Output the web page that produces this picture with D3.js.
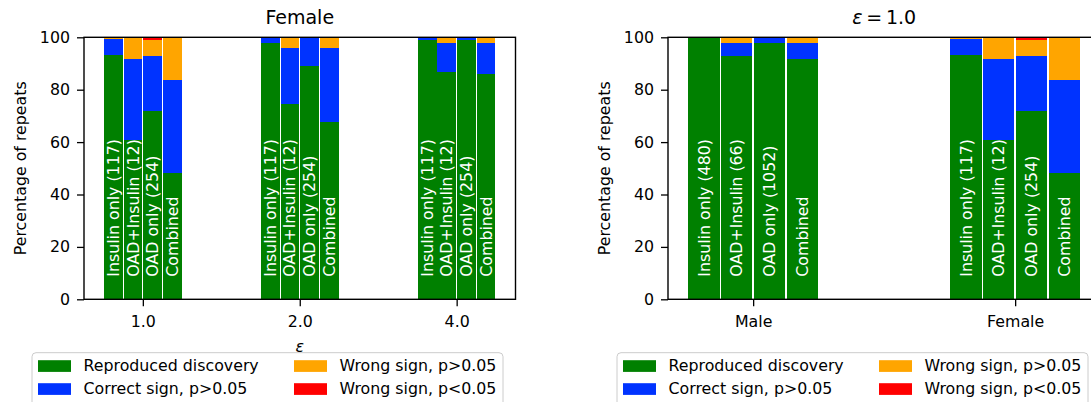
<!DOCTYPE html>
<html>
<head>
<meta charset="utf-8">
<script src="https://cdn.jsdelivr.net/npm/d3@7/dist/d3.min.js"></script>
<style>
  body { margin: 0; background: #fff; }
  svg { display: block; font-family: "DejaVu Sans", sans-serif; }
</style>
</head>
<body>
<svg id="chart" width="1091" height="402"></svg>
<script>
// ---------------- DATA ----------------
const seriesNames = ["Reproduced discovery", "Correct sign, p>0.05", "Wrong sign, p>0.05", "Wrong sign, p<0.05"];
const seriesColors = ["#008000", "#0033ff", "#ffa500", "#ff0000"];

// Left panel: Female, by epsilon
const leftGroups = ["1.0", "2.0", "4.0"];
const leftBarLabels = [
  ["Insulin only (117)", "OAD+Insulin (12)", "OAD only (254)", "Combined"],
  ["Insulin only (117)", "OAD+Insulin (12)", "OAD only (254)", "Combined"],
  ["Insulin only (117)", "OAD+Insulin (12)", "OAD only (254)", "Combined"]
];
const leftReproduced = [[93.2, 60.8, 71.9, 48.1], [97.7, 74.7, 89.2, 67.8], [99.1, 86.9, 99.1, 86.1]];
const leftCorrectNS  = [[6.0, 30.9, 21.1, 35.6], [2.3, 21.2, 10.8, 28.1], [0.9, 10.9, 0.9, 11.7]];
const leftWrongNS    = [[0.8, 8.3, 6.0, 16.3], [0.0, 4.1, 0.0, 4.1], [0.0, 2.2, 0.0, 2.2]];
const leftWrongSig   = [[0.0, 0.0, 1.0, 0.0], [0.0, 0.0, 0.0, 0.0], [0.0, 0.0, 0.0, 0.0]];

// Right panel: epsilon = 1.0, by sex
const rightGroups = ["Male", "Female"];
const rightBarLabels = [
  ["Insulin only (480)", "OAD+Insulin (66)", "OAD only (1052)", "Combined"],
  ["Insulin only (117)", "OAD+Insulin (12)", "OAD only (254)", "Combined"]
];
const rightReproduced = [[100.0, 93.0, 97.8, 91.7], [93.2, 60.8, 71.9, 48.1]];
const rightCorrectNS  = [[0.0, 4.8, 2.2, 6.1], [6.0, 30.9, 21.1, 35.6]];
const rightWrongNS    = [[0.0, 2.2, 0.0, 2.2], [0.8, 8.3, 6.0, 16.3]];
const rightWrongSig   = [[0.0, 0.0, 0.0, 0.0], [0.0, 0.0, 1.0, 0.0]];

const yTicks = [0, 20, 40, 60, 80, 100];

// ---------------- LAYOUT ----------------
const svg = d3.select("#chart");
const FS = 15.8;
const yTop = 37.3, yBot = 299.3;
const barStep = 0.125, barWidth = 0.12;

function drawPanel(opts) {
  const { x0, x1, groups, labels, series, title, xlabel, legendX } = opts;
  const nG = groups.length;
  const margin = (nG - 0.5) * 0.05; // matplotlib default 5% margin on data range
  const x = d3.scaleLinear().domain([-0.25 - margin, nG - 0.75 + margin]).range([x0, x1]);
  const y = d3.scaleLinear().domain([0, 100]).range([yBot, yTop]);
  const g = svg.append("g");

  // bars
  const barsG = g.append("g").attr("shape-rendering", "crispEdges");
  groups.forEach((grp, i) => {
    for (let j = 0; j < 4; j++) {
      const cx = i + (j - 1.5) * barStep;
      let base = 0;
      series.forEach((s, k) => {
        const v = s[i][j];
        if (v > 0) {
          barsG.append("rect")
            .attr("x", x(cx - barWidth / 2))
            .attr("width", x(cx + barWidth / 2) - x(cx - barWidth / 2))
            .attr("y", y(base + v))
            .attr("height", y(base) - y(base + v))
            .attr("fill", seriesColors[k]);
        }
        base += v;
      });
      // label
      const ty = y(0) - 22.6;
      const tx = x(cx);
      g.append("text")
        .attr("transform", `translate(${tx},${ty}) rotate(-90)`)
        .attr("dominant-baseline", "central")
        .attr("text-anchor", "start")
        .attr("fill", "#fff")
        .attr("font-size", FS)
        .text(labels[i][j]);
    }
  });

  // axes
  const yAxis = d3.axisLeft(y).tickValues(yTicks).tickSize(7).tickPadding(7).tickFormat(d3.format("d"));
  const ya = g.append("g").attr("transform", `translate(${x0},0)`).call(yAxis);
  const xAxis = d3.axisBottom(x).tickValues(d3.range(nG)).tickFormat((d) => groups[d]).tickSize(7).tickPadding(9);
  const xa = g.append("g").attr("transform", `translate(0,${yBot})`).call(xAxis);
  [ya, xa].forEach(a => {
    a.select(".domain").remove();
    a.selectAll(".tick line").attr("stroke", "#000").attr("stroke-width", 1.3);
    a.selectAll(".tick text").attr("fill", "#000").attr("font-size", FS).attr("font-family", "DejaVu Sans");
  });
  // frame
  g.append("rect")
    .attr("x", x0).attr("y", yTop)
    .attr("width", x1 - x0).attr("height", yBot - yTop)
    .attr("fill", "none").attr("stroke", "#000").attr("stroke-width", 1.4);

  // y label
  g.append("text")
    .attr("transform", `translate(${x0 - 64},${(yTop + yBot) / 2}) rotate(-90)`)
    .attr("text-anchor", "middle").attr("dominant-baseline", "central")
    .attr("font-size", FS).text("Percentage of repeats");

  // title
  const t = g.append("text")
    .attr("x", (x0 + x1) / 2).attr("y", 24)
    .attr("text-anchor", "middle").attr("font-size", 19);
  if (title.math) {
    t.append("tspan").attr("font-style", "italic").text("ε");
    t.append("tspan").text("\u2009=\u20091.0");
  } else {
    t.text(title.text);
  }

  // x label
  if (xlabel) {
    g.append("text")
      .attr("x", (x0 + x1) / 2).attr("y", 352)
      .attr("text-anchor", "middle").attr("font-size", FS)
      .attr("font-style", "italic").text(xlabel);
  }

  // legend
  const lg = g.append("g").attr("transform", `translate(${legendX},352.7)`);
  lg.append("rect").attr("x", 0).attr("y", 0).attr("width", 471).attr("height", 62)
    .attr("rx", 4).attr("fill", "#fff").attr("fill-opacity", 0.85)
    .attr("stroke", "#cccccc").attr("stroke-width", 1);
  const order = [0, 1, 2, 3];
  order.forEach((k) => {
    const col = Math.floor(k / 2), row = k % 2;
    const px = col === 0 ? 6 : 262;
    const cy = row === 0 ? 13.3 : 36.3;
    lg.append("rect").attr("x", px).attr("y", cy - 5.8).attr("width", 33).attr("height", 11.7)
      .attr("fill", seriesColors[k]);
    lg.append("text").attr("x", px + 45.5).attr("y", cy).attr("dominant-baseline", "central")
      .attr("font-size", FS).text(seriesNames[k]);
  });
}

drawPanel({
  x0: 84, x1: 515.5,
  groups: leftGroups, labels: leftBarLabels,
  series: [leftReproduced, leftCorrectNS, leftWrongNS, leftWrongSig],
  title: { text: "Female" }, xlabel: "ε", legendX: 32
});
drawPanel({
  x0: 668, x1: 1100.3,
  groups: rightGroups, labels: rightBarLabels,
  series: [rightReproduced, rightCorrectNS, rightWrongNS, rightWrongSig],
  title: { math: true }, xlabel: null, legendX: 617
});
</script>
</body>
</html>
